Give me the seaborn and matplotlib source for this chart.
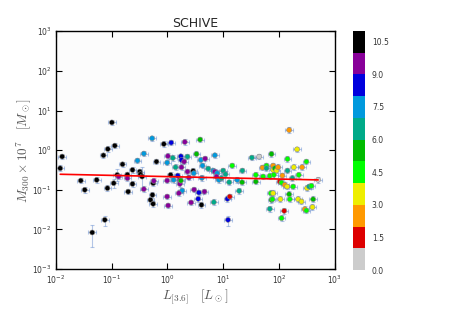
import numpy as np
import pandas as pd
import seaborn as sns
import matplotlib.pyplot as plt
from matplotlib.colors import ListedColormap, Normalize
from matplotlib.cm import ScalarMappable
from matplotlib.ticker import LogLocator, NullLocator

# galaxy luminosity [L_sun], M300 x 1e7 [M_sun], morphological type
lum = [0.0120, 0.0130, 0.028, 0.033, 0.054, 0.045, 0.0755, 0.0715, 0.0843, 0.0855,
       0.101, 0.109, 0.114, 0.126, 0.157, 0.198, 0.192, 0.237, 0.237, 0.320,
       0.329, 0.352, 0.133, 0.192, 0.378, 0.291, 0.378, 0.532, 0.637, 0.498,
       0.540, 0.555, 0.555, 0.570, 0.863, 1.02, 0.99, 0.99, 0.99, 1.03,
       1.17, 1.14, 1.25, 1.29, 1.40, 1.53, 1.67, 1.74, 1.79, 1.84,
       1.60, 2.05, 1.79, 2.00, 2.29, 2.29, 1.67, 1.74, 2.42, 2.66,
       2.89, 2.97, 3.01, 3.32, 3.56, 3.66, 3.86, 3.97, 4.14, 4.08,
       4.26, 4.62, 4.75, 5.38, 6.79, 7.08, 6.61, 7.08, 7.80, 7.59,
       8.34, 9.31, 9.98, 11.0, 11.9, 13.1, 12.8, 12.2, 14.5, 17.8,
       19.3, 21.8, 22.1, 32.6, 44.1, 38.4, 38.4, 50.5, 51.9, 59.6,
       59.6, 73.3, 68.4, 71.3, 73.3, 68.4, 78.5, 78.5, 84.1, 90.2,
       96.6, 80.7, 78.5, 76.4, 103, 111, 106, 111, 124, 115,
       127, 140, 142, 142, 152, 152, 156, 179, 174, 184,
       211, 220, 226, 253, 259, 290, 310, 310, 319, 347,
       382, 398, 409, 502]
mass = [0.35, 0.69, 0.171, 0.100, 0.178, 0.0084, 0.0175, 0.74, 0.110, 1.07,
        5.0, 0.147, 1.30, 0.238, 0.44, 0.090, 0.242, 0.141, 0.318, 0.288,
        0.247, 0.216, 0.216, 0.196, 0.104, 0.546, 0.82, 1.99, 0.514, 0.0558,
        0.0745, 0.0443, 0.147, 0.168, 1.43, 0.71, 0.485, 0.171, 0.0676, 0.0402,
        1.55, 0.238, 0.637, 0.178, 0.371, 0.229, 0.178, 0.70, 0.566, 0.0957,
        0.0822, 1.61, 0.371, 0.514, 0.687, 0.288, 0.141, 0.171, 0.204, 0.0479,
        0.300, 0.262, 0.101, 0.80, 0.0592, 0.0853, 1.85, 0.566, 0.200, 0.0418,
        0.408, 0.090, 0.612, 0.343, 0.0488, 0.743, 0.305, 0.288, 0.262, 0.216,
        0.178, 0.196, 0.305, 0.247, 0.0592, 0.0676, 0.155, 0.0175, 0.408, 0.178,
        0.094, 0.155, 0.305, 0.649, 0.687, 0.238, 0.161, 0.363, 0.216, 0.408,
        0.350, 0.80, 0.224, 0.0822, 0.0558, 0.0331, 0.408, 0.318, 0.350, 0.305,
        0.371, 0.238, 0.0822, 0.0579, 0.161, 0.152, 0.0579, 0.0193, 0.0295, 0.229,
        0.133, 0.121, 0.305, 0.60, 3.22, 0.0774, 0.0579, 0.121, 0.196, 0.371,
        1.05, 0.0579, 0.238, 0.0507, 0.371, 0.0325, 0.514, 0.0301, 0.110, 0.121,
        0.126, 0.0365, 0.0579, 0.178]
mtype = [10, 10, 10, 10, 10, 10, 10, 10, 10, 10,
         10, 10, 10, 10, 10, 10, 10, 10, 10, 10,
         10, 10, 9, 9, 9, 7, 7, 7, 10, 10,
         10, 10, 10, 9, 10, 9, 7, 9, 9, 9,
         8, 10, 6, 7, 6, 8, 9, 8, 8, 7,
         9, 9, 9, 9, 6, 9, 9, 5, 9, 9,
         10, 7, 9, 5, 8, 8, 5, 7, 7, 10,
         7, 9, 9, 6, 6, 7, 7, 9, 7, 9,
         7, 6, 6, 6, 8, 1, 6, 8, 4, 7,
         6, 5, 6, 6, 0, 4, 5, 2, 4, 4,
         6, 5, 4, 4, 5, 6, 2, 3, 5, 3,
         2, 4, 3, 4, 1, 4, 3, 4, 1, 2,
         2, 3, 6, 4, 2, 5, 4, 4, 6, 3,
         3, 3, 4, 3, 2, 2, 4, 4, 3, 6,
         4, 3, 5, 0]

# points with large mass uncertainties: index -> (lower, upper)
big_err = {5: (0.0036, 0.0131), 6: (0.0126, 0.0214), 87: (0.0126, 0.0214),
           21: (0.098, 0.37), 13: (0.17, 0.33), 11: (0.11, 0.19)}

# linear fit in log space (end points)
fit_x = [0.012, 502]
fit_y = [0.247, 0.178]

type_colors = ['#cccccc', '#dd0000', '#ff9900', '#eeee00', '#00ff00', '#00bb00',
               '#00aa88', '#0099dd', '#0000dd', '#880099', '#000000']
cbar_ticks = [0.0, 1.5, 3.0, 4.5, 6.0, 7.5, 9.0, 10.5]

df = pd.DataFrame({'L': lum, 'M': mass, 'T': mtype})

sns.set_style('ticks')
plt.rcParams['mathtext.fontset'] = 'cm'
plt.rcParams['font.family'] = ['DejaVu Sans']

fig = plt.figure(figsize=(4.5, 3.09), dpi=100)
ax = fig.add_axes([0.124, 0.129, 0.62, 0.770])
ax.set_facecolor('#fcfcfc')

# error bars (~0.07 dex) with a few larger ones
d = 10 ** 0.07
L = np.array(lum)
M = np.array(mass)
m_lo = M - M / d
m_hi = M * d - M
for i, (lo, hi) in big_err.items():
    m_lo[i] = M[i] - lo
    m_hi[i] = hi - M[i]
ax.errorbar(L, M, xerr=[L - L / d, L * d - L], yerr=[m_lo, m_hi], fmt='none',
            ecolor='#5a84cc', alpha=0.45, elinewidth=0.8, capsize=1.5,
            capthick=0.8, zorder=1)

pal = dict(zip(range(11), type_colors))
sns.scatterplot(data=df, x='L', y='M', hue='T', palette=pal, legend=False,
                s=13, edgecolor='#888888', linewidth=0.4, ax=ax, zorder=3)
ax.plot(fit_x, fit_y, color='red', lw=1.2, zorder=4)

ax.set_xscale('log')
ax.set_yscale('log')
ax.set_xlim(1e-2, 1e3)
ax.set_ylim(1e-3, 1e3)
ax.xaxis.set_major_locator(LogLocator(base=10, numticks=10))
ax.yaxis.set_major_locator(LogLocator(base=10, numticks=10))
ax.xaxis.set_minor_locator(NullLocator())
ax.yaxis.set_minor_locator(NullLocator())
ax.tick_params(direction='in', length=4, width=0.8, labelsize=5.5,
               top=True, right=True, colors='black', labelcolor='#333333', pad=3)
for s in ax.spines.values():
    s.set_linewidth(1.0)
    s.set_color('black')

ax.set_xlabel(r'$L_{[3.6]}\quad[L_\odot]$', fontsize=9.5, color='#555555')
ax.set_ylabel(r'$M_{300}\times10^7\quad[M_\odot]$', fontsize=9.5, color='#555555')
ax.xaxis.set_label_coords(0.5, -0.078)
ax.yaxis.set_label_coords(-0.08, 0.5)
ax.set_title('SCHIVE', fontsize=9, pad=3)

cax = fig.add_axes([0.784, 0.126, 0.027, 0.774])
sm = ScalarMappable(norm=Normalize(0, 11), cmap=ListedColormap(type_colors))
cb = fig.colorbar(sm, cax=cax, ticks=cbar_ticks)
cb.outline.set_visible(False)
cb.ax.tick_params(length=0, labelsize=5.5, labelcolor='#333333', pad=5)
cb.ax.set_yticklabels([f'{t:.1f}' for t in cbar_ticks])

fig.savefig('out.png', dpi=100)
